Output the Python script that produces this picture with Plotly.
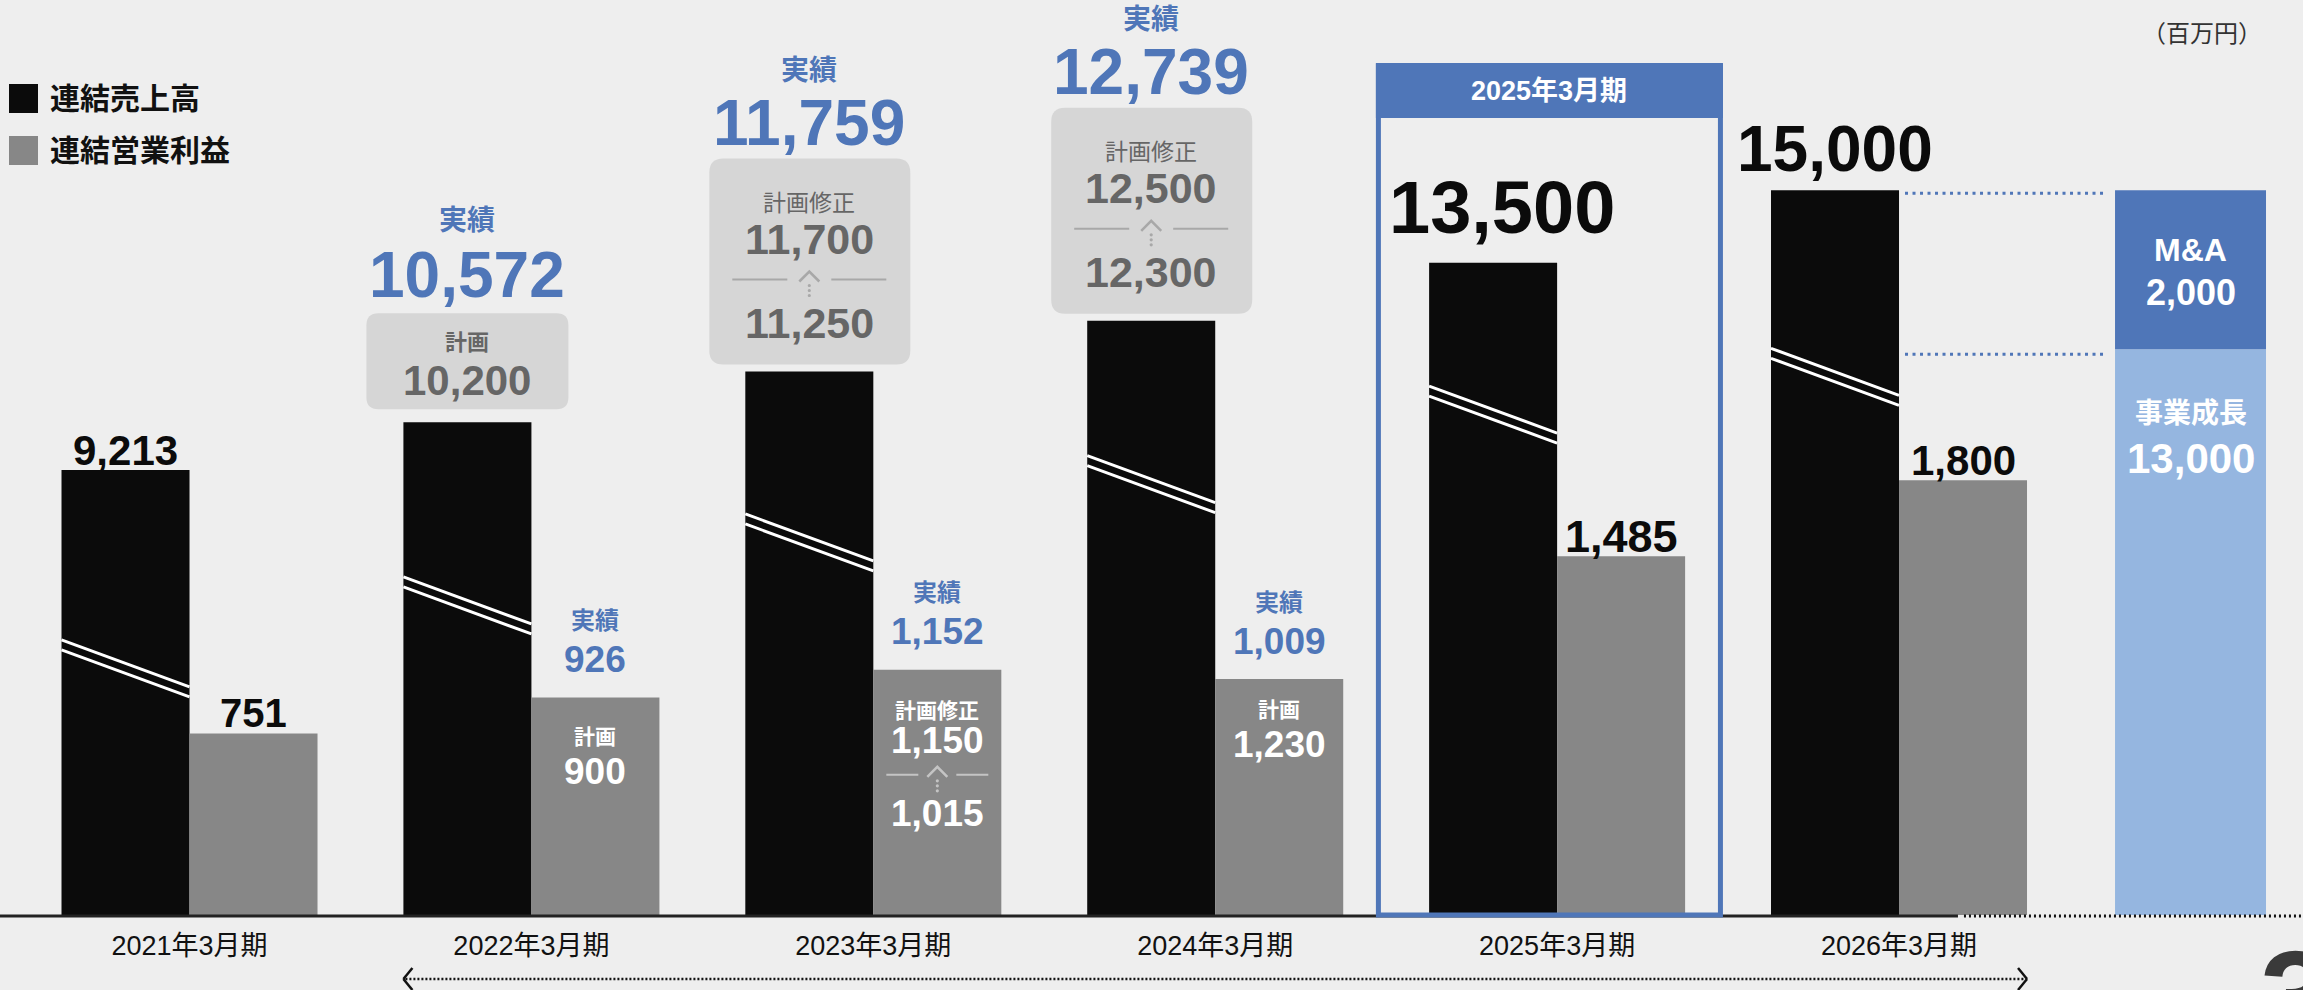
import plotly.graph_objects as go

# ---------------- data ----------------
categories = ["2021年3月期", "2022年3月期", "2023年3月期", "2024年3月期", "2025年3月期", "2026年3月期"]
legend_names = ["連結売上高", "連結営業利益"]

# bar lengths as drawn in the picture (sales bars follow the first plan, not the actual)
sales_bar = [9213, 10200, 11250, 12300, 13500, 15000]
profit_bar = [751, 900, 1015, 977, 1485, 1800]

# labelled values
sales_actual = [9213, 10572, 11759, 12739, None, None]
sales_plan = [None, 10200, 11700, 12500, 13500, 15000]
sales_plan_initial = [None, None, 11250, 12300, None, None]
profit_actual = [751, 926, 1152, 1009, None, None]
profit_plan = [None, 900, 1150, 1230, 1485, 1800]
profit_plan_initial = [None, None, 1015, None, None, None]

breakdown_names = ["事業成長", "M&A"]
breakdown_values = [13000, 2000]
breakdown_bar = [11710, 3290]

unit_label = "（百万円）"
actual_word = "実績"
plan_word = "計画"
revised_word = "計画修正"
page_number = "3"

# ---------------- geometry / style ----------------
W, H = 2303, 990
MB = 75
PH = H - MB
XU = 341.9
X0 = -0.5543
SALES_MAX = 18940
PROFIT_MAX = 3788
BW = 0.3744
BD_X = 5.8526
BD_W = 0.4416

BG = "#eeeeee"
BLACK = "#0b0b0b"
GRAY = "#878787"
BLUE = "#4f76b8"
LBLUE = "#95b6e0"
BOXG = "#d6d6d6"
TGRAY = "#666666"
FONT = "Liberation Sans, Arial, Noto Sans CJK JP, sans-serif"
CJK = "Noto Sans CJK JP, sans-serif"


def xpx(x):
    return (x - X0) * XU


def ys_px(v):
    return PH - v * PH / SALES_MAX


def yp_px(v):
    return PH - v * PH / PROFIT_MAX


def P(px, py):
    return px / W, (PH - py) / PH


def fmt(v):
    return f"{v:,}"


annotations = []
shapes = []


def text(px, py, s, size, color, bold=True, xanchor="center", yanchor="middle", family=FONT):
    a, b = P(px, py)
    annotations.append(dict(xref="paper", yref="paper", x=a, y=b, text=s, showarrow=False,
                            xanchor=xanchor, yanchor=yanchor,
                            font=dict(size=size, color=color, family=family,
                                      weight="bold" if bold else "normal")))


def line(x0, y0, x1, y1, color, width, dash=None):
    a, b = P(x0, y0)
    c, d = P(x1, y1)
    ln = dict(color=color, width=width)
    if dash:
        ln["dash"] = dash
    shapes.append(dict(type="line", xref="paper", yref="paper", x0=a, y0=b, x1=c, y1=d, line=ln))


def rect(x0, y0, x1, y1, fill=None, lc=None, lw=0):
    a, b = P(x0, y0)
    c, d = P(x1, y1)
    shapes.append(dict(type="rect", xref="paper", yref="paper", x0=a, y0=b, x1=c, y1=d,
                       fillcolor=fill if fill else "rgba(0,0,0,0)",
                       line=dict(color=lc if lc else "rgba(0,0,0,0)", width=lw)))


def rrect(x0, y0, x1, y1, r, fill):
    def Q(x, y):
        a, b = P(x, y)
        return f"{a:.6f},{b:.6f}"
    path = (f"M{Q(x0 + r, y0)} L{Q(x1 - r, y0)} Q{Q(x1, y0)} {Q(x1, y0 + r)} "
            f"L{Q(x1, y1 - r)} Q{Q(x1, y1)} {Q(x1 - r, y1)} L{Q(x0 + r, y1)} "
            f"Q{Q(x0, y1)} {Q(x0, y1 - r)} L{Q(x0, y0 + r)} Q{Q(x0, y0)} {Q(x0 + r, y0)} Z")
    shapes.append(dict(type="path", xref="paper", yref="paper", path=path,
                       fillcolor=fill, line=dict(width=0)))


def chevron(cx, ytop, half, h, color, width=2.5):
    def Q(x, y):
        a, b = P(x, y)
        return f"{a:.6f},{b:.6f}"
    path = f"M{Q(cx - half, ytop + h)} L{Q(cx, ytop)} L{Q(cx + half, ytop + h)}"
    shapes.append(dict(type="path", xref="paper", yref="paper", path=path,
                       line=dict(color=color, width=width)))


def dot(cx, cy, r, color):
    a, b = P(cx - r, cy - r)
    c, d = P(cx + r, cy + r)
    shapes.append(dict(type="circle", xref="paper", yref="paper", x0=a, y0=b, x1=c, y1=d,
                       fillcolor=color, line=dict(width=0)))


def separator(cx, sy, inner, outer, color):
    line(cx - outer, sy, cx - inner, sy, color, 2)
    line(cx + inner, sy, cx + outer, sy, color, 2)
    chevron(cx, sy - 8, 10, 10, color)
    for k in range(3):
        dot(cx, sy + 6 + k * 5, 1.6, color)


# ---------------- traces ----------------
xs = list(range(len(categories)))
fig = go.Figure()
fig.add_trace(go.Bar(x=xs, y=sales_bar, width=[BW] * 6, offset=[-BW] * 6, marker=dict(color=BLACK, line=dict(width=0)),
                     name=legend_names[0], yaxis="y", showlegend=False, hoverinfo="skip"))
fig.add_trace(go.Bar(x=xs, y=profit_bar, width=[BW] * 6, offset=[0] * 6, marker=dict(color=GRAY, line=dict(width=0)),
                     name=legend_names[1], yaxis="y2", showlegend=False, hoverinfo="skip"))
fig.add_trace(go.Bar(x=[BD_X], y=[breakdown_bar[0]], base=[0], width=[BD_W], marker=dict(color=LBLUE, line=dict(width=0)),
                     name=breakdown_names[0], yaxis="y", showlegend=False, hoverinfo="skip"))
fig.add_trace(go.Bar(x=[BD_X], y=[breakdown_bar[1]], base=[breakdown_bar[0]], width=[BD_W], marker=dict(color=BLUE, line=dict(width=0)),
                     name=breakdown_names[1], yaxis="y", showlegend=False, hoverinfo="skip"))

# ---------------- decorations ----------------
break_frac = [0.618, 0.686, 0.738, 0.773, 0.811, 0.782]
for i in xs:
    xl = xpx(i - BW)
    xr = xpx(i)
    yl = ys_px(sales_bar[i] * break_frac[i])
    for off in (0, 10):
        line(xl, yl + off, xr, yl + off + 47, "white", 3)

# baseline
line(xpx(-0.5) - 151, PH + 1, xpx(5.5) - 112, PH + 1, "#222222", 3)
line(xpx(5.5) - 106, PH + 1, W, PH + 1, "#111111", 3, dash="2px,3px")

# 2025 highlight
hx0 = xpx(4 - 0.53)
hx1 = xpx(4 + 0.485)
rect(hx0 + 2.5, 66, hx1 - 2.5, PH, lc=BLUE, lw=5)
rect(hx0, 63, hx1, 118, fill=BLUE)
text((hx0 + hx1) / 2, 91, categories[4], 27, "white")

# breakdown dotted guides
gx0 = xpx(5) + 6
gx1 = xpx(BD_X - BD_W / 2) - 8
line(gx0, ys_px(sum(breakdown_bar)) + 3, gx1, ys_px(sum(breakdown_bar)) + 3, BLUE, 3, dash="3px,4.5px")
line(gx0, ys_px(breakdown_bar[0]) + 5, gx1, ys_px(breakdown_bar[0]) + 5, BLUE, 3, dash="3px,4.5px")

# period arrow
ay = 979
ax0 = xpx(1 - BW)
ax1 = xpx(5 + BW)
line(ax0 + 2, ay, ax1 - 2, ay, "#111111", 2.5, dash="2px,2px")
line(ax0 + 9, ay - 11, ax0, ay, "#111111", 2.5)
line(ax0, ay, ax0 + 9, ay + 11, "#111111", 2.5)
line(ax1 - 9, ay - 11, ax1, ay, "#111111", 2.5)
line(ax1, ay, ax1 - 9, ay + 11, "#111111", 2.5)

# legend
for k, (nm, col) in enumerate(zip(legend_names, [BLACK, GRAY])):
    cy = 98.5 + 52 * k
    rect(9, cy - 14.5, 38, cy + 14.5, fill=col)
    text(48, cy, nm, 30, "#111111", xanchor="left")

text(2264, 32, unit_label, 24, "#333333", bold=False, xanchor="right", family=CJK)

# ---------------- labels: sales ----------------
for i in xs:
    T = ys_px(sales_bar[i])
    cx = xpx(i - BW / 2)
    if sales_plan_initial[i] is not None:
        rrect(cx - 100, T - 213, cx + 101, T - 7, 14, BOXG)
        text(cx, T - 169, revised_word, 23, TGRAY, bold=False)
        text(cx, T - 133, fmt(sales_plan[i]), 43, TGRAY)
        separator(cx, T - 92, 22, 77, "#a8a8a8")
        text(cx, T - 49, fmt(sales_plan_initial[i]), 43, TGRAY)
        text(cx, T - 249, fmt(sales_actual[i]), 64, BLUE)
        text(cx, T - 301, actual_word, 28, BLUE)
    elif sales_plan[i] is not None and sales_actual[i] is not None:
        rrect(cx - 101, T - 109, cx + 101, T - 13, 12, BOXG)
        text(cx, T - 80, plan_word, 22, TGRAY)
        text(cx, T - 42, fmt(sales_plan[i]), 42, TGRAY)
        text(cx, T - 147, fmt(sales_actual[i]), 64, BLUE)
        text(cx, T - 202, actual_word, 28, BLUE)
    elif sales_actual[i] is not None:
        text(cx, T - 19, fmt(sales_actual[i]), 42, BLACK)
    else:
        big = 74 if i == 4 else 64
        off = 55 if i == 4 else 41
        text(cx + (9 if i == 4 else 0), T - off, fmt(sales_plan[i]), big, BLACK)

# ---------------- labels: profit ----------------
inner_off = {1: 39, 3: 30}
for i in xs:
    T = yp_px(profit_bar[i])
    cx = xpx(i + BW / 2)
    if profit_plan[i] is not None and profit_actual[i] is not None:
        text(cx, T - 77, actual_word, 24, BLUE)
        text(cx, T - 38, fmt(profit_actual[i]), 37, BLUE)
        if profit_plan_initial[i] is not None:
            text(cx, T + 41, revised_word, 21, "white")
            text(cx, T + 71, fmt(profit_plan[i]), 37, "white")
            separator(cx, T + 105, 19, 51, "#c4c4c4")
            text(cx, T + 144, fmt(profit_plan_initial[i]), 37, "white")
        else:
            o = inner_off[i]
            text(cx, T + o, plan_word, 21, "white")
            text(cx, T + o + 35, fmt(profit_plan[i]), 37, "white")
    elif profit_actual[i] is not None:
        text(cx, T - 21, fmt(profit_actual[i]), 40, BLACK)
    else:
        sz = 45 if i == 4 else 42
        text(cx, T - 20, fmt(profit_plan[i]), sz, BLACK)

# ---------------- labels: breakdown ----------------
bcx = xpx(BD_X)
Tb = ys_px(sum(breakdown_bar))
Bb = ys_px(breakdown_bar[0])
text(bcx, Tb + 60, breakdown_names[1], 32, "white")
text(bcx, Tb + 102, fmt(breakdown_values[1]), 36, "white")
text(bcx, Bb + 64, breakdown_names[0], 28, "white")
text(bcx, Bb + 109, fmt(breakdown_values[0]), 42, "white")

# page number (cut by the page edge, as in the source slide)
text(2258, 922, page_number, 130, "#3a3a3a", xanchor="left", yanchor="top")

fig.update_layout(
    width=W, height=H,
    margin=dict(l=0, r=0, t=0, b=MB, pad=0),
    paper_bgcolor=BG, plot_bgcolor=BG,
    barmode="overlay",
    showlegend=False,
    hovermode=False,
    xaxis=dict(range=[X0, X0 + W / XU], tickvals=xs, ticktext=categories, ticks="",
               showgrid=False, zeroline=False, showline=False, fixedrange=True,
               tickfont=dict(size=27, color="#111111", family=FONT), ticklabelstandoff=12),
    yaxis=dict(range=[0, SALES_MAX], visible=False, showgrid=False, zeroline=False, fixedrange=True),
    yaxis2=dict(range=[0, PROFIT_MAX], overlaying="y", visible=False, showgrid=False, zeroline=False, fixedrange=True),
    annotations=annotations,
    shapes=shapes,
)

fig.write_html("out.html", config={"displayModeBar": False, "staticPlot": True},
               post_script="document.body.style.margin='0';document.body.style.overflow='hidden';")
